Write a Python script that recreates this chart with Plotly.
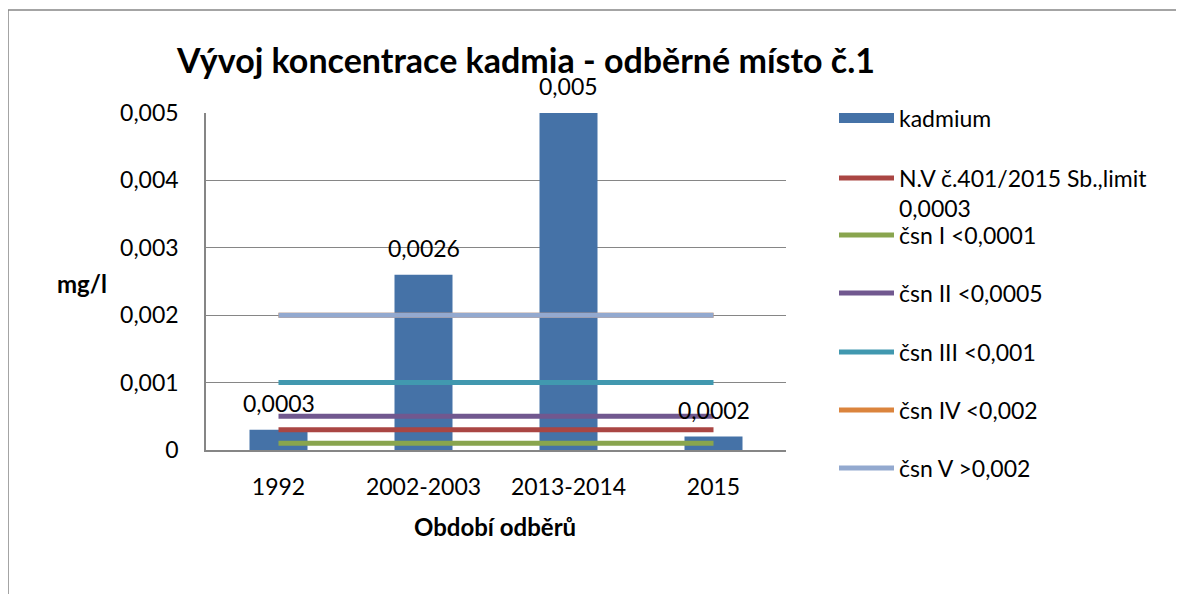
import plotly.graph_objects as go

categories = ["1992", "2002-2003", "2013-2014", "2015"]
kadmium = [0.0003, 0.0026, 0.005, 0.0002]
kadmium_labels = ["0,0003", "0,0026", "0,005", "0,0002"]
nv_limit = [0.0003, 0.0003, 0.0003, 0.0003]
csn1 = [0.0001, 0.0001, 0.0001, 0.0001]
csn2 = [0.0005, 0.0005, 0.0005, 0.0005]
csn3 = [0.001, 0.001, 0.001, 0.001]
csn4 = [0.002, 0.002, 0.002, 0.002]
csn5 = [0.002, 0.002, 0.002, 0.002]
y_ticks = [0, 0.001, 0.002, 0.003, 0.004, 0.005]
y_tick_labels = ["0", "0,001", "0,002", "0,003", "0,004", "0,005"]

FONT = "Lato"
OFF = 8  # page body margin
W, H = 1184 - OFF, 594 - OFF
L, R, T, B = 206, 786, 113, 450  # plot area in screen pixels


def px_x(px):
    return (px - L) / (R - L)


def px_y(py):
    return (B - py) / (B - T)


line_series = [
    ("N.V č.401/2015 Sb.,limit<br>0,0003", nv_limit, "#AA4643", "legend2", 193),
    ("čsn I <0,0001", csn1, "#89A54E", "legend3", 235),
    ("čsn II <0,0005", csn2, "#71588F", "legend4", 293),
    ("čsn III <0,001", csn3, "#4198AF", "legend5", 352),
    ("čsn IV <0,002", csn4, "#DB843D", "legend6", 410),
    ("čsn V >0,002", csn5, "#93A9CF", "legend7", 468),
]

fig = go.Figure()
fig.add_trace(go.Bar(x=categories, y=kadmium, marker=dict(color="#4572A7", line=dict(width=0)),
                     width=0.4, showlegend=False, name="kadmium"))
# legend-only entry for the bar series (wide swatch)
fig.add_trace(go.Scatter(x=[None], y=[None], mode="lines", name="kadmium",
                         line=dict(color="#4572A7", width=15), legend="legend"))
for name, vals, color, leg, _ in line_series:
    fig.add_trace(go.Scatter(x=categories, y=vals, mode="lines", name=name,
                             line=dict(color=color, width=5), legend=leg))

annotations = []
for i, (v, lab) in enumerate(zip(kadmium, kadmium_labels)):
    annotations.append(dict(x=i, y=v, text=lab, showarrow=False, xanchor="center", yanchor="middle",
                            yshift=27, font=dict(family=FONT, size=23, color="#000")))
annotations.append(dict(xref="paper", yref="paper", x=px_x(82), y=px_y(283), text="<b>mg/l</b>",
                        xanchor="center", yanchor="middle",
                        showarrow=False, font=dict(family=FONT, size=24, color="#000")))
annotations.append(dict(xref="paper", yref="paper", x=px_x(495), y=px_y(526), text="<b>Období odběrů</b>",
                        xanchor="center", yanchor="middle",
                        showarrow=False, font=dict(family=FONT, size=24, color="#000")))

legend_common = dict(font=dict(family=FONT, size=23, color="#000"), bgcolor="rgba(0,0,0,0)",
                     itemwidth=55, valign="top", xanchor="left", yanchor="middle",
                     itemclick=False, itemdoubleclick=False)
LEGX = px_x(834)
layout_legends = {"legend": dict(x=LEGX, y=px_y(118), **legend_common)}
for name, vals, color, leg, ypx in line_series:
    layout_legends[leg] = dict(x=LEGX, y=px_y(ypx), **legend_common)

fig.update_layout(
    width=W, height=H,
    margin=dict(l=L - OFF, r=W - (R - OFF), t=T - OFF, b=H - (B - OFF), pad=0),
    paper_bgcolor="white", plot_bgcolor="white",
    title=dict(text="<b>Vývoj koncentrace kadmia - odběrné místo č.1</b>", x=(526 - OFF) / W, xanchor="center",
               y=1 - (61 - OFF) / H, yanchor="middle", font=dict(family=FONT, size=34, color="#000")),
    xaxis=dict(type="category", range=[-0.5, 3.5], showline=True, linecolor="#868686", linewidth=1.5,
               showgrid=False, ticks="outside", ticklen=16, tickcolor="rgba(0,0,0,0)",
               tickfont=dict(family=FONT, size=23, color="#000"), fixedrange=True),
    yaxis=dict(range=[0, 0.005], tickvals=y_ticks, ticktext=y_tick_labels, showline=True,
               linecolor="#868686", linewidth=1.5, showgrid=True, gridcolor="#868686", gridwidth=1,
               zeroline=False, ticks="outside", ticklen=21, tickcolor="rgba(0,0,0,0)",
               tickfont=dict(family=FONT, size=23, color="#000"), fixedrange=True),
    annotations=annotations,
    shapes=[dict(type="rect", xref="paper", yref="paper", x0=px_x(8), x1=px_x(1200), y0=px_y(610), y1=px_y(10),
                 line=dict(color="#868686", width=1.5), fillcolor="rgba(0,0,0,0)", layer="below")],
    **layout_legends,
)

fig.write_html("out.html")
